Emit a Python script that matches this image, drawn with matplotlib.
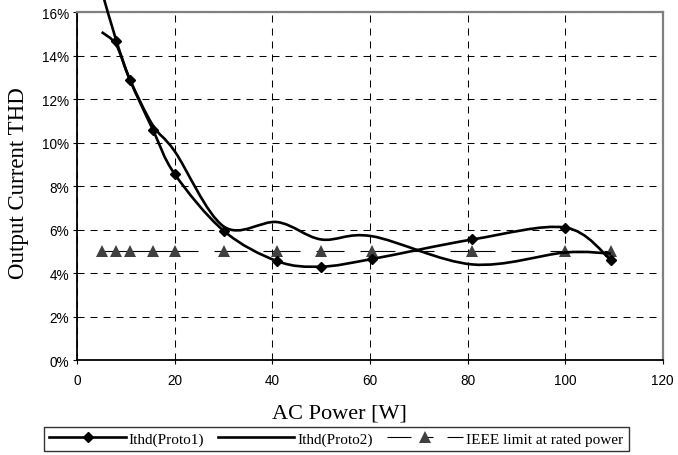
import numpy as np
import matplotlib
matplotlib.use("Agg")
import matplotlib.pyplot as plt
from matplotlib.path import Path
from matplotlib.patches import PathPatch
from matplotlib.collections import LineCollection
from matplotlib.lines import Line2D
from matplotlib.ticker import FuncFormatter

#---------------------DATA------------------------
power = [5, 8, 10.8, 15.5, 20, 30, 41, 50, 60.4, 81, 100, 109.4]
ithd_proto1 = [17.0, 14.7, 12.9, 10.6, 8.55, 5.95, 4.55, 4.3, 4.65, 5.55, 6.1, 4.6]
ithd_proto2 = [15.1, 14.5, 12.9, 10.8, 9.6, 6.15, 6.35, 5.55, 5.7, 4.4, 4.95, 4.9]
ieee_limit = [5, 5, 5, 5, 5, 5, 5, 5, 5, 5, 5, 5]

x_ticks = [0, 20, 40, 60, 80, 100, 120]
y_ticks = [0, 2, 4, 6, 8, 10, 12, 14, 16]

labels = ["Ithd(Proto1)", "Ithd(Proto2)", "IEEE limit at rated power"]

#---------------------FONT and other graphics------------------------
matplotlib.rc('lines', scale_dashes=False)
sans = 'Liberation Sans'
serif = 'Liberation Serif'
PX = 0.72  # one pixel in points at dpi 100


def smooth_path(x, y):
    # Excel-like smoothed line: cubic bezier through every point
    P = np.column_stack([x, y]).astype(float)
    n = len(P)
    verts = [P[0]]
    codes = [Path.MOVETO]
    for i in range(n - 1):
        p0 = P[i - 1] if i > 0 else P[i]
        p3 = P[i + 2] if i + 2 < n else P[i + 1]
        c1 = P[i] + (P[i + 1] - p0) / 6.0
        c2 = P[i + 1] - (p3 - P[i]) / 6.0
        verts += [c1, c2, P[i + 1]]
        codes += [Path.CURVE4] * 3
    return Path(verts, codes)


#------------Figure Layout--------------
fig = plt.figure(figsize=(6.78, 4.56), dpi=100)
ax = fig.add_axes([0.114, 0.2083, 0.9774 - 0.114, 0.9704 - 0.2083])

ax.set_xlim(0, 120)
ax.set_ylim(0, 16)
ax.set_xticks(x_ticks)
ax.set_yticks(y_ticks)
ax.yaxis.set_major_formatter(FuncFormatter(lambda v, p: "%d%%" % v))

ax.grid(True, color='black', linewidth=0.75, linestyle=(0, (7 * PX, 6 * PX)))
ax.set_axisbelow(True)

for s in ['left', 'bottom']:
    ax.spines[s].set_color('black')
    ax.spines[s].set_linewidth(1.3)
for s in ['top', 'right']:
    ax.spines[s].set_color('#808080')
    ax.spines[s].set_linewidth(1.6)

ax.tick_params(direction='out', length=3, width=0.8, colors='black')
ax.tick_params(axis='y', pad=3)
ax.tick_params(axis='x', pad=6)
for t in ax.get_xticklabels() + ax.get_yticklabels():
    t.set_fontfamily(sans)
    t.set_fontsize(9.8)

#PLOT
# IEEE limit: dash pattern restarts at every point (one segment each)
segs = [[(power[i], ieee_limit[i]), (power[i + 1], ieee_limit[i + 1])]
        for i in range(len(power) - 1)]
lc = LineCollection(segs, colors='black', linewidths=0.8,
                    linestyles=[(0, (23 * PX, 16 * PX))], zorder=3)
ax.add_collection(lc)
ax.plot(power, ieee_limit, linestyle='none', marker='^', markersize=8,
        color='#404040', markeredgewidth=0, zorder=4)

p1 = PathPatch(smooth_path(power, ithd_proto1), facecolor='none',
               edgecolor='black', linewidth=1.9, zorder=5, clip_on=False)
ax.add_patch(p1)
ax.plot(power, ithd_proto1, linestyle='none', marker='D', markersize=5.3,
        color='black', zorder=6, clip_on=False)

p2 = PathPatch(smooth_path(power, ithd_proto2), facecolor='none',
               edgecolor='black', linewidth=1.9, zorder=5)
ax.add_patch(p2)

# labels
fig.text(0.027, (0.2083 + 0.9704) / 2 + 0.01, "Output Current THD", rotation=90,
         ha='center', va='center', fontfamily=serif, fontsize=16.5)
fig.text(0.5, 0.093, "AC Power [W]", ha='center', va='center',
         fontfamily=serif, fontsize=16)

#legend
h1 = Line2D([], [], color='black', linewidth=1.9, marker='D', markersize=5.3)
h2 = Line2D([], [], color='black', linewidth=1.9)
h3 = Line2D([], [], color='black', linewidth=0.8, marker='^', markersize=8,
            markerfacecolor='#404040', markeredgewidth=0,
            linestyle=(0, (24 * PX, 14 * PX, 8 * PX, 14 * PX)))
leg = fig.legend([h1, h2, h3], labels, loc='center', bbox_to_anchor=(0.496, 0.035),
                 ncol=3, frameon=True, fancybox=False, shadow=False,
                 handlelength=5.0, handletextpad=0.2, columnspacing=0.9,
                 borderpad=0.35, borderaxespad=0,
                 prop={'family': serif, 'size': 11})
leg.get_frame().set_edgecolor('black')
leg.get_frame().set_linewidth(1.0)

#SAVING
fig.savefig("out.png", dpi=100)
